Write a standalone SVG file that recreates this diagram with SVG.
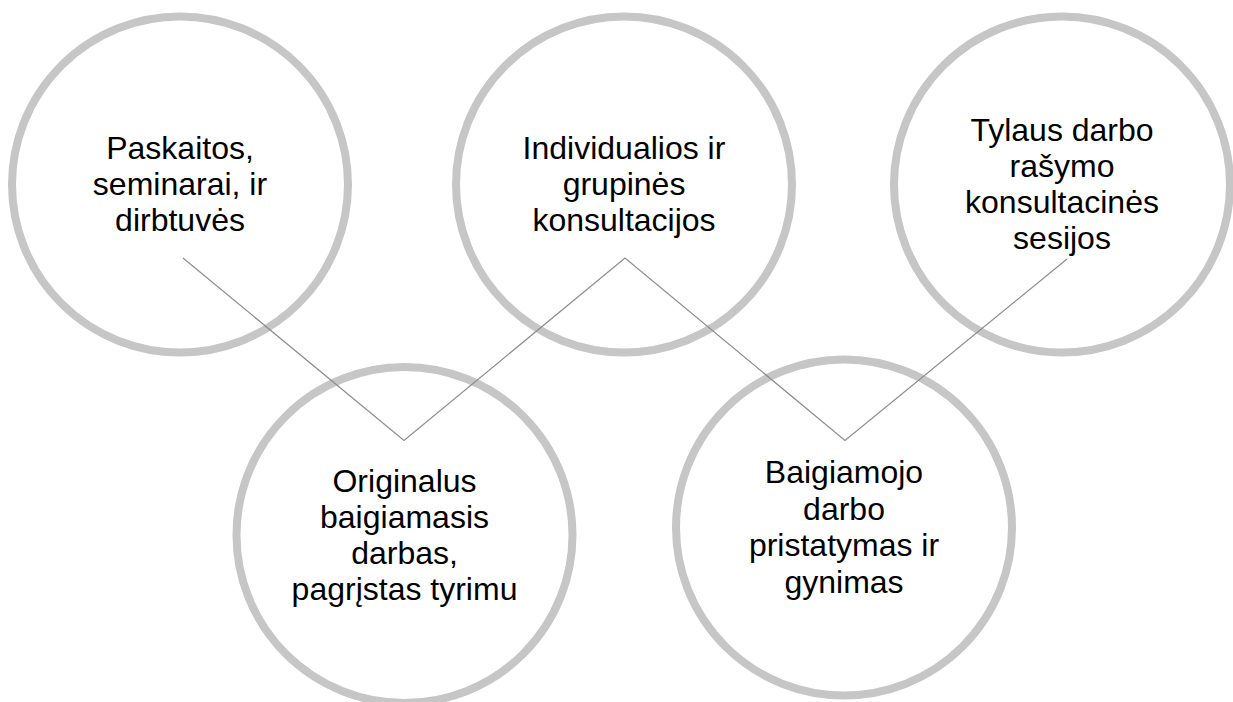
<svg xmlns="http://www.w3.org/2000/svg" width="1233" height="702" viewBox="0 0 1233 702">
<style>
.ring{fill:#ffffff;fill-opacity:0;stroke:#c6c6c6;stroke-width:8}
.lbl{font-family:"Liberation Sans",Arial,sans-serif;font-size:32px;fill:#000;text-anchor:middle}
.conn{fill:none;stroke:#8c8c8c;stroke-width:1.2}
</style>
<rect width="1233" height="702" fill="#ffffff"/>
<g id="node1">
<circle class="ring" cx="180" cy="184.5" r="168"/>
<text class="lbl"><tspan x="180" y="159">Paskaitos,</tspan><tspan x="180" y="195">seminarai, ir</tspan><tspan x="180" y="231">dirbtuvės</tspan></text>
</g>
<g id="node2">
<circle class="ring" cx="624" cy="184.5" r="168"/>
<text class="lbl"><tspan x="624" y="159">Individualios ir</tspan><tspan x="624" y="195">grupinės</tspan><tspan x="624" y="231">konsultacijos</tspan></text>
</g>
<g id="node3">
<circle class="ring" cx="1062" cy="184.5" r="168"/>
<text class="lbl"><tspan x="1062" y="141">Tylaus darbo</tspan><tspan x="1062" y="177">rašymo</tspan><tspan x="1062" y="213">konsultacinės</tspan><tspan x="1062" y="249">sesijos</tspan></text>
</g>
<g id="node4">
<circle class="ring" cx="404.5" cy="535" r="168"/>
<text class="lbl"><tspan x="404.5" y="492">Originalus</tspan><tspan x="404.5" y="528">baigiamasis</tspan><tspan x="404.5" y="564">darbas,</tspan><tspan x="404.5" y="600">pagrįstas tyrimu</tspan></text>
</g>
<g id="node5">
<circle class="ring" cx="844" cy="527.5" r="168"/>
<text class="lbl"><tspan x="844" y="483">Baigiamojo</tspan><tspan x="844" y="519.5">darbo</tspan><tspan x="844" y="556">pristatymas ir</tspan><tspan x="844" y="592.5">gynimas</tspan></text>
</g>
<g id="connectors">
<polyline class="conn" points="183,258 404,440.5 625,258 845,440.5 1067,259"/>
</g>
</svg>
